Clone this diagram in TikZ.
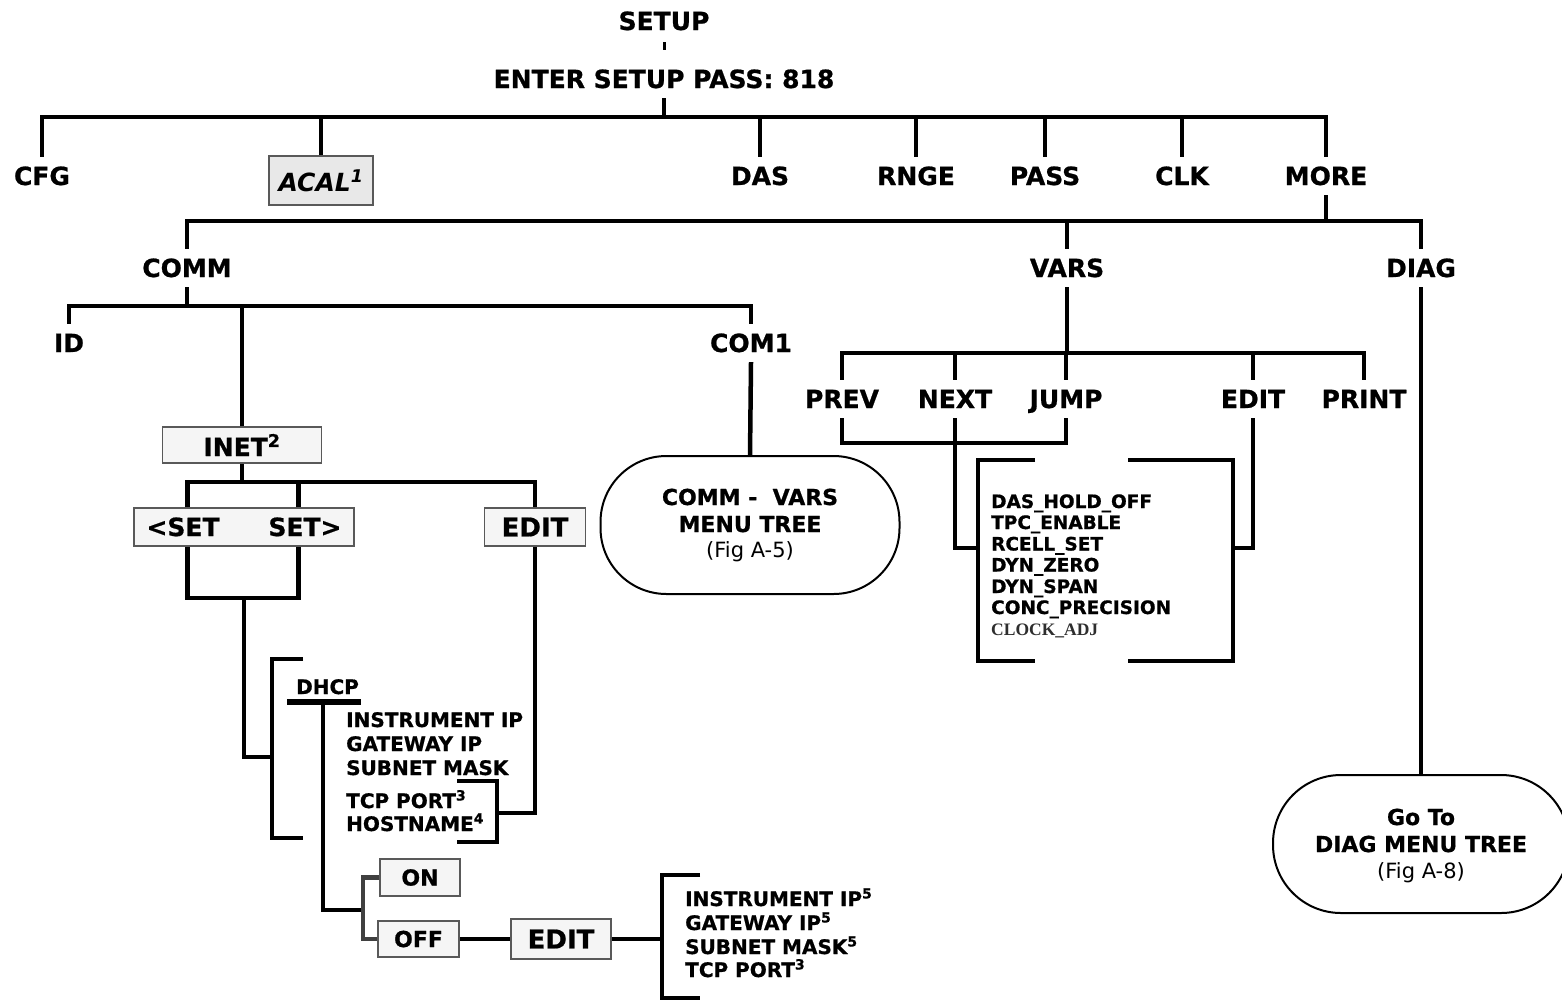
\documentclass[tikz,border=0pt]{standalone}
\usepackage{fontspec}
\setmainfont{DejaVu Sans}[BoldFeatures={FakeBold=0.8}]
\newfontfamily\serifbold{Liberation Serif}
\usetikzlibrary{calc}
\newcommand{\FSz}[1]{\fontsize{#1}{#1}\selectfont}
\tikzset{
  ln/.style={line width=4.5pt},
  glink/.style={line width=4.5pt, draw=black!75},
  lab/.style={font=\FSz{25}\bfseries, text height=18pt, text depth=0pt, inner xsep=1pt, inner ysep=10pt, anchor=base},
  boxed/.style={draw=black!65, line width=1.5pt, fill=black!4, inner sep=0pt, anchor=center},
  item/.style={font=\FSz{20}\bfseries, anchor=base west, inner sep=0pt},
  vitem/.style={font=\FSz{18.5}\bfseries, anchor=base west, inner sep=0pt},
  oval/.style={draw, line width=2pt, rounded corners=66pt, inner sep=0pt, anchor=center},
  ovtxt/.style={font=\FSz{22}\bfseries, anchor=base, inner sep=0pt},
  ovsub/.style={font=\FSz{21}, anchor=base, inner sep=0pt},
}
\begin{document}
\begin{tikzpicture}[x=1pt,y=-1pt]
\useasboundingbox (0,0) rectangle (1562,1001);
\fill[white] (0,0) rectangle (1562,1001);

% ---------- level 0
\node[lab] (setup) at (664,30) {SETUP};
\node[lab] (enter) at (664,88) {ENTER SETUP PASS: 818};
\coordinate (tickA) at ($(setup.south)+(0,2)$);
\coordinate (tickB) at ($(setup.south)+(0,10)$);
\draw[line width=3pt] (tickA) -- (tickB);

% ---------- level 1
\foreach \n/\x/\t in {cfg/42/CFG, das/760/DAS, rnge/916/RNGE, pass/1045/PASS, clk/1182/CLK, more/1326/MORE}
  \node[lab] (\n) at (\x,185) {\t};
\node[boxed, fill=black!9, minimum width=104pt, minimum height=49pt, font=\FSz{25}\bfseries\itshape] (acal) at (321,180.5) {ACAL\textsuperscript{1}};

\coordinate (bus1) at (0,117);
\draw[ln] (enter.south) -- (enter.south |- bus1);
\draw[ln] (cfg.north) |- (more.north |- bus1) -- (more.north);
\foreach \n in {acal,das,rnge,pass,clk}
  \draw[ln] (\n.north) -- (\n.north |- bus1);

% ---------- level 2
\node[lab] (comm) at (187,277) {COMM};
\node[lab] (vars) at (1067,277) {VARS};
\node[lab] (diag) at (1421,277) {DIAG};
\coordinate (bus2) at (0,221);
\draw[ln] (more.south) -- (more.south |- bus2);
\draw[ln] (comm.north) |- (diag.north |- bus2) -- (diag.north);
\draw[ln] (vars.north) -- (vars.north |- bus2);

% ---------- COMM branch
\node[lab] (id) at (69,352) {ID};
\node[lab] (com1) at (751,352) {COM1};
\node[boxed, minimum width=159pt, minimum height=36pt, font=\FSz{25}\bfseries] (inet) at (242,445) {INET\textsuperscript{2}};
\coordinate (bus3) at (0,306);
\draw[ln] (comm.south) -- (comm.south |- bus3);
\draw[ln] (id.north) |- (com1.north |- bus3) -- (com1.north);
\draw[ln] (inet.north) -- (inet.north |- bus3);

% COMM - VARS oval
\node[oval, minimum width=299pt, minimum height=138pt] (cvo) at (750,525) {};
\node[ovtxt] (cvo1) at (750,505) {COMM -\ \ VARS};
\node[ovtxt] (cvo2) at (750,532) {MENU TREE};
\node[ovsub] (cvo3) at (750,557) {(Fig A-5)};
\draw[ln] (com1.south) -- (cvo.north);

% INET sub tree
\node[boxed, minimum width=220pt, minimum height=38pt] (setbox) at (244,527) {};
\node[font=\FSz{25}\bfseries, inner sep=0pt, anchor=base] (setl) at (183,536) {<SET};
\node[font=\FSz{25}\bfseries, inner sep=0pt, anchor=base] (setr) at (305,536) {SET>};
\node[boxed, minimum width=101pt, minimum height=38pt, font=\FSz{26}\bfseries] (edit1) at (535,527) {EDIT};
\coordinate (bus5) at (0,482);
\coordinate (sl) at ($(setbox.north west)+(54,0)$);
\coordinate (sr) at ($(setbox.north west)+(165,0)$);
\coordinate (slb) at ($(setbox.south west)+(54,0)$);
\coordinate (srb) at ($(setbox.south west)+(165,0)$);
\draw[ln] (inet.south) -- (inet.south |- bus5);
\draw[ln] (sl) |- (edit1.north |- bus5) -- (edit1.north);
\draw[ln] (sr) -- (sr |- bus5);
\coordinate (bus6) at (0,598);
\draw[ln] (slb) |- (srb |- bus6) -- (srb);
\coordinate (j6) at (244,598);
\coordinate (dhb) at (272,757);
\draw[ln] (j6) |- (dhb);

% DHCP bracket
\draw[ln] (303,659) -| (272,838) -- (303,838);
\node[font=\FSz{20}\bfseries, anchor=base west, inner sep=0pt] (dhcp) at (296,694) {DHCP};
\draw[line width=5.5pt] (287,702) -- (361,702);
\node[item] (d1) at (346,727) {INSTRUMENT IP};
\node[item] (d2) at (346,751) {GATEWAY IP};
\node[item] (d3) at (346,775) {SUBNET MASK};
\node[item] (d4) at (346,808) {TCP PORT\textsuperscript{3}};
\node[item] (d5) at (346,831) {HOSTNAME\textsuperscript{4}};
\draw[ln] (457,781) -| (497,842) -- (457,842);
\coordinate (hb) at (497,813);
\draw[ln] (edit1.south) |- (hb);

% ON / OFF
\node[boxed, minimum width=80pt, minimum height=37pt, font=\FSz{22}\bfseries] (on) at (420,877.5) {ON};
\node[boxed, minimum width=81pt, minimum height=36pt, font=\FSz{22}\bfseries] (off) at (418.5,939) {OFF};
\node[boxed, minimum width=100pt, minimum height=40pt, font=\FSz{26}\bfseries] (edit2) at (561,939) {EDIT};
\coordinate (dh) at (323,702);
\coordinate (onoff) at (363,910);
\coordinate (offj) at (363,939);
\draw[ln] (dh) |- (onoff);
\draw[glink] (on.west) -| (offj) -- (off.west);
\draw[ln] (off.east) -- (edit2.west);
\coordinate (ipbr) at (662,939);
\draw[ln] (edit2.east) -- (ipbr);
\draw[ln] (700,875) -| (662,998) -- (700,998);
\node[item] (e1) at (685,906) {INSTRUMENT IP\textsuperscript{5}};
\node[item] (e2) at (685,930) {GATEWAY IP\textsuperscript{5}};
\node[item] (e3) at (685,954) {SUBNET MASK\textsuperscript{5}};
\node[item] (e4) at (685,977) {TCP PORT\textsuperscript{3}};

% ---------- VARS branch
\foreach \n/\x/\t in {prev/842/PREV, next/955/NEXT, jump/1066/JUMP, edit3/1253/EDIT, print/1364/PRINT}
  \node[lab] (\n) at (\x,408) {\t};
\coordinate (bus4) at (0,353);
\draw[ln] (vars.south) -- (vars.south |- bus4);
\draw[ln] (prev.north) |- (print.north |- bus4) -- (print.north);
\foreach \n in {next,jump,edit3}
  \draw[ln] (\n.north) -- (\n.north |- bus4);
\coordinate (bus7) at (0,443);
\draw[ln] (prev.south) |- (jump.south |- bus7) -- (jump.south);
\coordinate (vbl) at (978,548);
\coordinate (vbr) at (1233,548);
\draw[ln] (next.south) |- (vbl);
\draw[ln] (edit3.south) |- (vbr);
\draw[ln] (1035,460) -| (978,661) -- (1035,661);
\draw[ln] (1128,460) -| (1233,661) -- (1128,661);
\node[vitem] (v1) at (991,508) {DAS\_HOLD\_OFF};
\node[vitem] (v2) at (991,529) {TPC\_ENABLE};
\node[vitem] (v3) at (991,550.5) {RCELL\_SET};
\node[vitem] (v4) at (991,571.5) {DYN\_ZERO};
\node[vitem] (v5) at (991,593) {DYN\_SPAN};
\node[vitem] (v6) at (991,614) {CONC\_PRECISION};
\node[anchor=base west, inner sep=0pt, font=\serifbold\FSz{17.5}\bfseries, text=black!82] (v7) at (991,635) {CLOCK\_ADJ};

% ---------- DIAG
\node[oval, minimum width=296pt, minimum height=138pt, rounded corners=68pt] (dgo) at (1421,844) {};
\node[ovtxt] (dg1) at (1421,825) {Go To};
\node[ovtxt] (dg2) at (1421,852) {DIAG MENU TREE};
\node[ovsub] (dg3) at (1421,878) {(Fig A-8)};
\draw[ln] (diag.south) -- (dgo.north);
\end{tikzpicture}
\end{document}
